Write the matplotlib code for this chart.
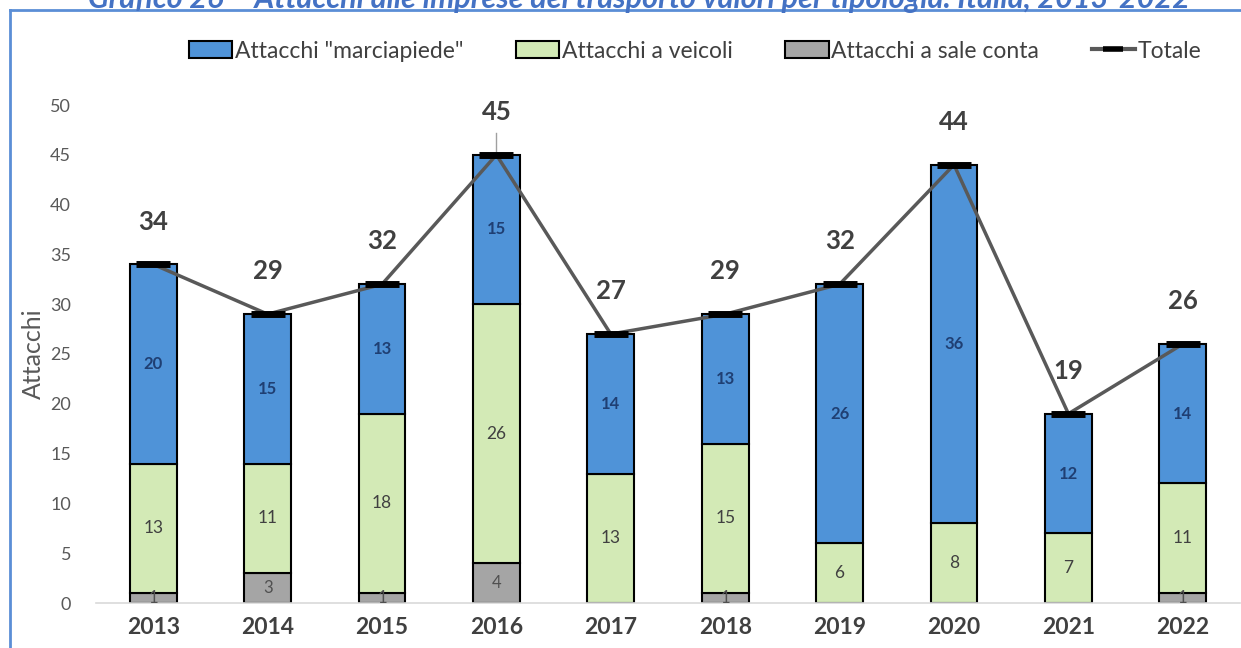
import matplotlib.pyplot as plt
from matplotlib.patches import Patch
from matplotlib.lines import Line2D
import numpy as np

plt.rcParams['font.family'] = ['Lato', 'DejaVu Sans']

anni = ['2013', '2014', '2015', '2016', '2017', '2018', '2019', '2020', '2021', '2022']
marciapiede = [20, 15, 13, 15, 14, 13, 26, 36, 12, 14]
veicoli = [13, 11, 18, 26, 13, 15, 6, 8, 7, 11]
sale_conta = [1, 3, 1, 4, 0, 1, 0, 0, 0, 1]
totale = [34, 29, 32, 45, 27, 29, 32, 44, 19, 26]

c_blu = '#4F93D8'
c_verde = '#D3EAB6'
c_grigio = '#A5A5A5'
c_testo = '#404040'

fig = plt.figure(figsize=(12.41, 6.48), dpi=100)
ax = fig.add_axes([96 / 1241, 1 - 603 / 648, 1144 / 1241, (603 - 105) / 648])

x = np.arange(len(anni))
w = 0.41
s = np.array(sale_conta)
v = np.array(veicoli)
m = np.array(marciapiede)

ax.bar(x, s, w, color=c_grigio, edgecolor='black', linewidth=1.5, zorder=2)
ax.bar(x, v, w, bottom=s, color=c_verde, edgecolor='black', linewidth=1.5, zorder=2)
ax.bar(x, m, w, bottom=s + v, color=c_blu, edgecolor='black', linewidth=1.5, zorder=2)

ax.plot(x, totale, color='#595959', linewidth=2.5, zorder=3,
        marker='_', markersize=24, markeredgewidth=5, markeredgecolor='black')

# etichette dei segmenti
for i in x:
    if s[i] > 0:
        ax.text(i, s[i] / 2, str(s[i]), ha='center', va='center', fontsize=12, color='#505050', zorder=4)
    ax.text(i, s[i] + v[i] / 2, str(v[i]), ha='center', va='center', fontsize=12.5, color=c_testo, zorder=4)
    ax.text(i, s[i] + v[i] + m[i] / 2, str(m[i]), ha='center', va='center', fontsize=12,
            color='#1F3F73', fontweight='bold', zorder=4)
    ax.text(i, totale[i] + 4.3, str(totale[i]), ha='center', va='center', fontsize=18.5,
            color=c_testo, fontweight='bold', zorder=4)

# linea guida per 2016
ax.plot([3, 3], [45.3, 47.2], color='#A0A0A0', linewidth=1, zorder=1)

ax.set_xlim(-0.5, len(anni) - 0.5)
ax.set_ylim(0, 50)
ax.set_yticks(range(0, 51, 5))
ax.set_xticks(x)
ax.set_xticklabels(anni, fontsize=16.5, fontweight='bold', color=c_testo)
ax.tick_params(axis='both', length=0, pad=10)
ax.tick_params(axis='y', labelsize=13, labelcolor='#595959', pad=18)
for sp in ['top', 'right', 'left']:
    ax.spines[sp].set_visible(False)
ax.spines['bottom'].set_color('#D9D9D9')
ax.spines['bottom'].set_linewidth(1.2)
ax.set_ylabel('Attacchi', fontsize=18, color='#595959', labelpad=4)

handles = [Patch(facecolor=c_blu, edgecolor='black', linewidth=1.5),
           Patch(facecolor=c_verde, edgecolor='black', linewidth=1.5),
           Patch(facecolor=c_grigio, edgecolor='black', linewidth=1.5),
           Line2D([0], [0], color='#595959', linewidth=3, marker='_', markersize=14,
                  markeredgewidth=4, markeredgecolor='black')]
labels = ['Attacchi "marciapiede"', 'Attacchi a veicoli', 'Attacchi a sale conta', 'Totale']
fig.legend(handles, labels, loc='center', bbox_to_anchor=(0.56, 1 - 51 / 648), ncol=4,
           frameon=False, fontsize=16.5, labelcolor=c_testo, handlelength=1.9, handleheight=0.8,
           handletextpad=0.1, columnspacing=2.3)

# cornice (solo lati visibili)
top = 1 - 10 / 648
left = 10 / 1241
fig.add_artist(Line2D([left, left], [0, top], transform=fig.transFigure, color='#5B8ED6', linewidth=2))
fig.add_artist(Line2D([left, 1], [top, top], transform=fig.transFigure, color='#5B8ED6', linewidth=2))

fig.text(0.515, 1 - 8 / 648, 'Grafico 26 \u2013 Attacchi alle imprese del trasporto valori per tipologia. Italia, 2013-2022',
         ha='center', va='baseline', fontsize=22, fontweight='bold', fontstyle='italic', color='#4472C4')

fig.savefig('out.png', dpi=100)
